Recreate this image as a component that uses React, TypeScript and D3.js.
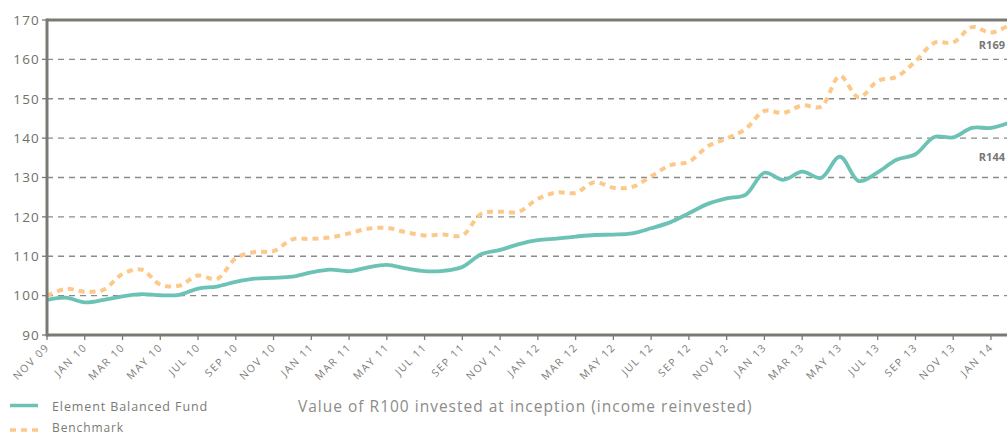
import * as d3 from "d3";

// month labels every 2 months from NOV 09
const tickLabels = [
  "NOV 09", "JAN 10", "MAR 10", "MAY 10", "JUL 10", "SEP 10", "NOV 10",
  "JAN 11", "MAR 11", "MAY 11", "JUL 11", "SEP 11", "NOV 11",
  "JAN 12", "MAR 12", "MAY 12", "JUL 12", "SEP 12", "NOV 12",
  "JAN 13", "MAR 13", "MAY 13", "JUL 13", "SEP 13", "NOV 13", "JAN 14",
];

// monthly values, NOV 09 .. FEB 14
const fund = [
  98.9, 99.5, 98.3, 98.9, 99.8, 100.4, 100.1, 100.2, 101.8, 102.3,
  103.5, 104.3, 104.5, 104.8, 105.9, 106.6, 106.2, 107.2, 107.8, 106.9,
  106.2, 106.3, 107.3, 110.5, 111.6, 113.1, 114.1, 114.5, 115.0, 115.4,
  115.5, 115.8, 117.1, 118.6, 120.9, 123.3, 124.7, 125.6, 131.2, 129.4,
  131.5, 129.9, 135.3, 129.1, 131.3, 134.5, 135.9, 140.3, 140.2, 142.6,
  142.6, 144.0,
];

const benchmark = [
  100.0, 101.7, 101.0, 101.5, 105.5, 106.6, 102.8, 102.5, 105.1, 104.2,
  109.5, 111.1, 111.3, 114.3, 114.4, 114.8, 115.8, 117.0, 117.2, 116.1,
  115.3, 115.5, 115.3, 120.8, 121.3, 121.3, 124.6, 126.2, 126.1, 128.8,
  127.4, 127.6, 130.3, 133.1, 134.0, 137.9, 139.9, 142.3, 146.9, 146.4,
  148.3, 148.0, 155.8, 150.3, 154.5, 155.6, 159.5, 164.2, 164.3, 168.2,
  166.8, 168.8,
];

const yTicks = [90, 100, 110, 120, 130, 140, 150, 160, 170];

const width = 1007;
const height = 436;
const left = 47;
const top = 20;
const bottom = 335;

const grey = "#7a7a74";
const teal = "#6cc3b5";
const orange = "#fdc98a";
const font = "'Open Sans', Lato, sans-serif";

export default function App() {
  const x = d3.scaleLinear([0, 50.85], [left, width]);
  const y = d3.scaleLinear([90, 170], [bottom, top]);
  const line = d3
    .line<number>()
    .x((_d, i) => x(i))
    .y((d) => y(d))
    .curve(d3.curveCatmullRom.alpha(0.5));

  return (
    <svg
      width={width}
      height={height}
      style={{ position: "absolute", left: 0, top: 0, fontFamily: font }}
    >
      <defs>
        <clipPath id="plot">
          <rect x={left} y={top} width={width - left} height={bottom - top} />
        </clipPath>
      </defs>

      {/* grid */}
      {yTicks.slice(1, -1).map((t) => (
        <line
          key={t}
          x1={left}
          x2={width}
          y1={y(t)}
          y2={y(t)}
          stroke="#8a8a86"
          strokeWidth={1.3}
          strokeDasharray="6,5"
        />
      ))}

      {/* y axis */}
      {yTicks.map((t) => (
        <g key={t}>
          <line x1={42} x2={left} y1={y(t)} y2={y(t)} stroke={grey} strokeWidth={1.3} />
          <text
            x={40}
            y={y(t)}
            dy="0.36em"
            textAnchor="end"
            fontSize={13.5}
            letterSpacing={1.2}
            fill="#6f6f6a"
          >
            {t}
          </text>
        </g>
      ))}

      {/* x ticks */}
      {tickLabels.map((lab, i) => {
        const tx = x(i * 2);
        return (
          <g key={lab}>
            <line x1={tx} x2={tx} y1={bottom} y2={bottom + 5} stroke={grey} strokeWidth={1.3} />
            <text
              transform={`translate(${tx + 3},${bottom + 13}) rotate(-45)`}
              textAnchor="end"
              fontSize={10.5}
              letterSpacing={1.5}
              fill="#7d7d78"
            >
              {lab}
            </text>
          </g>
        );
      })}

      {/* series */}
      <g clipPath="url(#plot)">
        <path
          d={line(benchmark) || ""}
          fill="none"
          stroke={orange}
          strokeWidth={4}
          strokeDasharray="6,5"
        />
        <path d={line(fund) || ""} fill="none" stroke={teal} strokeWidth={3.8} />
      </g>

      {/* frame */}
      <line x1={left} x2={width} y1={top} y2={top} stroke={grey} strokeWidth={3} />
      <line x1={left} x2={width} y1={bottom} y2={bottom} stroke={grey} strokeWidth={3} />
      <line x1={left} x2={left} y1={top - 1.5} y2={bottom + 1.5} stroke={grey} strokeWidth={3} />

      {/* end labels */}
      <text x={1005} y={45} dy="0.35em" textAnchor="end" fontSize={11} fontWeight="bold" fill="#777">
        R169
      </text>
      <text x={1005} y={157} dy="0.35em" textAnchor="end" fontSize={11} fontWeight="bold" fill="#777">
        R144
      </text>

      {/* legend */}
      <line x1={10} x2={38} y1={405.5} y2={405.5} stroke={teal} strokeWidth={3.5} />
      <text x={52} y={410.5} fontSize={12.5} letterSpacing={0.9} fill="#7a7a76">
        Element Balanced Fund
      </text>
      <line
        x1={10}
        x2={38}
        y1={430}
        y2={430}
        stroke={orange}
        strokeWidth={3.5}
        strokeDasharray="6,5"
      />
      <text x={52} y={432} fontSize={12} letterSpacing={0.9} fill="#7a7a76">
        Benchmark
      </text>

      <text x={298} y={411.5} fontSize={15.5} letterSpacing={1} fill="#8c8c88">
        Value of R100 invested at inception (income reinvested)
      </text>
    </svg>
  );
}
